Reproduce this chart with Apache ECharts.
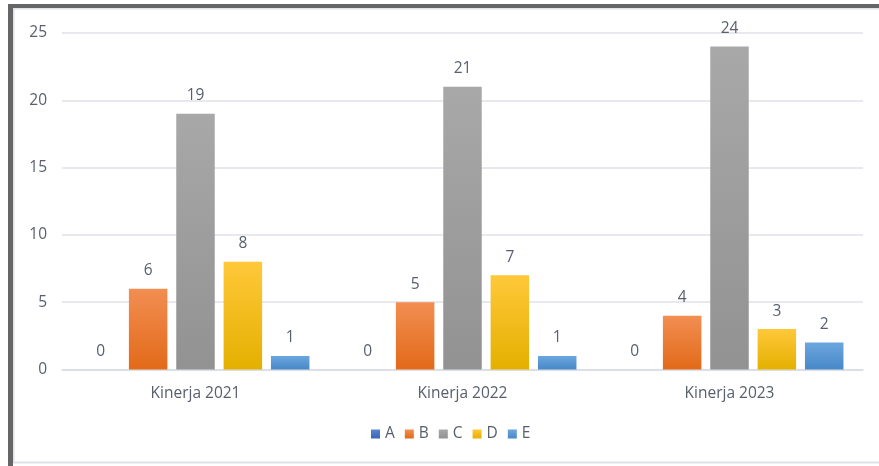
<!DOCTYPE html>
<html>
<head>
<meta charset="utf-8">
<script src="https://cdn.jsdelivr.net/npm/echarts@6/dist/echarts.min.js"></script>
<style>
html,body{margin:0;padding:0;background:#fff;}
#chart{width:879px;height:466px;}
</style>
</head>
<body>
<div id="chart"></div>
<script>
const categories = ['Kinerja 2021', 'Kinerja 2022', 'Kinerja 2023'];
const seriesNames = ['A', 'B', 'C', 'D', 'E'];
const valuesA = [0, 0, 0];
const valuesB = [6, 5, 4];
const valuesC = [19, 21, 24];
const valuesD = [8, 7, 3];
const valuesE = [1, 1, 2];
const yTicks = [0, 5, 10, 15, 20, 25];

const allValues = [valuesA, valuesB, valuesC, valuesD, valuesE];
const baseColors = ['#4472C4', '#ED7D31', '#A5A5A5', '#FFC000', '#5B9BD5'];
const gradTop = ['#5b85cf', '#F28E52', '#A8A8A8', '#FFC83A', '#6BA6DE'];
const gradBot = ['#3A66B8', '#E26A19', '#929292', '#E4B000', '#4888C8'];
const textColor = '#58606e';
const font = 'Open Sans';
const fs = 15.5;

const chart = echarts.init(document.getElementById('chart'), null, {renderer: 'canvas'});
const series = seriesNames.map((n, i) => ({
  name: n,
  type: 'bar',
  data: allValues[i],
  barWidth: 38.5,
  barGap: '23%',
  itemStyle: {
    color: new echarts.graphic.LinearGradient(0, 0, 0, 1, [
      {offset: 0, color: gradTop[i]},
      {offset: 1, color: gradBot[i]}
    ])
  },
  label: {
    show: true,
    position: 'top',
    distance: 10,
    color: textColor,
    fontSize: fs,
    fontFamily: font
  }
}));

chart.setOption({
  backgroundColor: '#ffffff',
  animation: false,
  color: baseColors,
  graphic: [
    {type: 'rect', shape: {x: 8, y: 4, width: 871, height: 4}, style: {fill: '#666666'}, silent: true, z: 100},
    {type: 'rect', shape: {x: 8, y: 4, width: 5, height: 462}, style: {fill: '#666666'}, silent: true, z: 100},
    {type: 'rect', shape: {x: 13.5, y: 8.5, width: 880, height: 454}, style: {fill: 'none', stroke: '#dfe2e8', lineWidth: 2}, silent: true, z: 99}
  ],
  grid: {left: 62, right: 16, top: 33, bottom: 96.5, containLabel: false},
  legend: {
    data: seriesNames,
    bottom: 19,
    left: 366,
    icon: 'rect',
    itemWidth: 9,
    itemHeight: 9,
    itemGap: 10,
    textStyle: {color: textColor, fontSize: fs, fontFamily: font}
  },
  xAxis: {
    type: 'category',
    data: categories,
    axisLine: {show: true, lineStyle: {color: '#d9dde4', width: 1.5}},
    axisTick: {show: false},
    axisLabel: {color: textColor, fontSize: fs, fontFamily: font, margin: 16}
  },
  yAxis: {
    type: 'value',
    min: yTicks[0],
    max: yTicks[yTicks.length - 1],
    interval: 5,
    axisLine: {show: false},
    axisTick: {show: false},
    splitLine: {lineStyle: {color: '#dfe2e8', width: 1.5}},
    axisLabel: {color: textColor, fontSize: fs, fontFamily: font, margin: 15}
  },
  series: series
});
</script>
</body>
</html>
